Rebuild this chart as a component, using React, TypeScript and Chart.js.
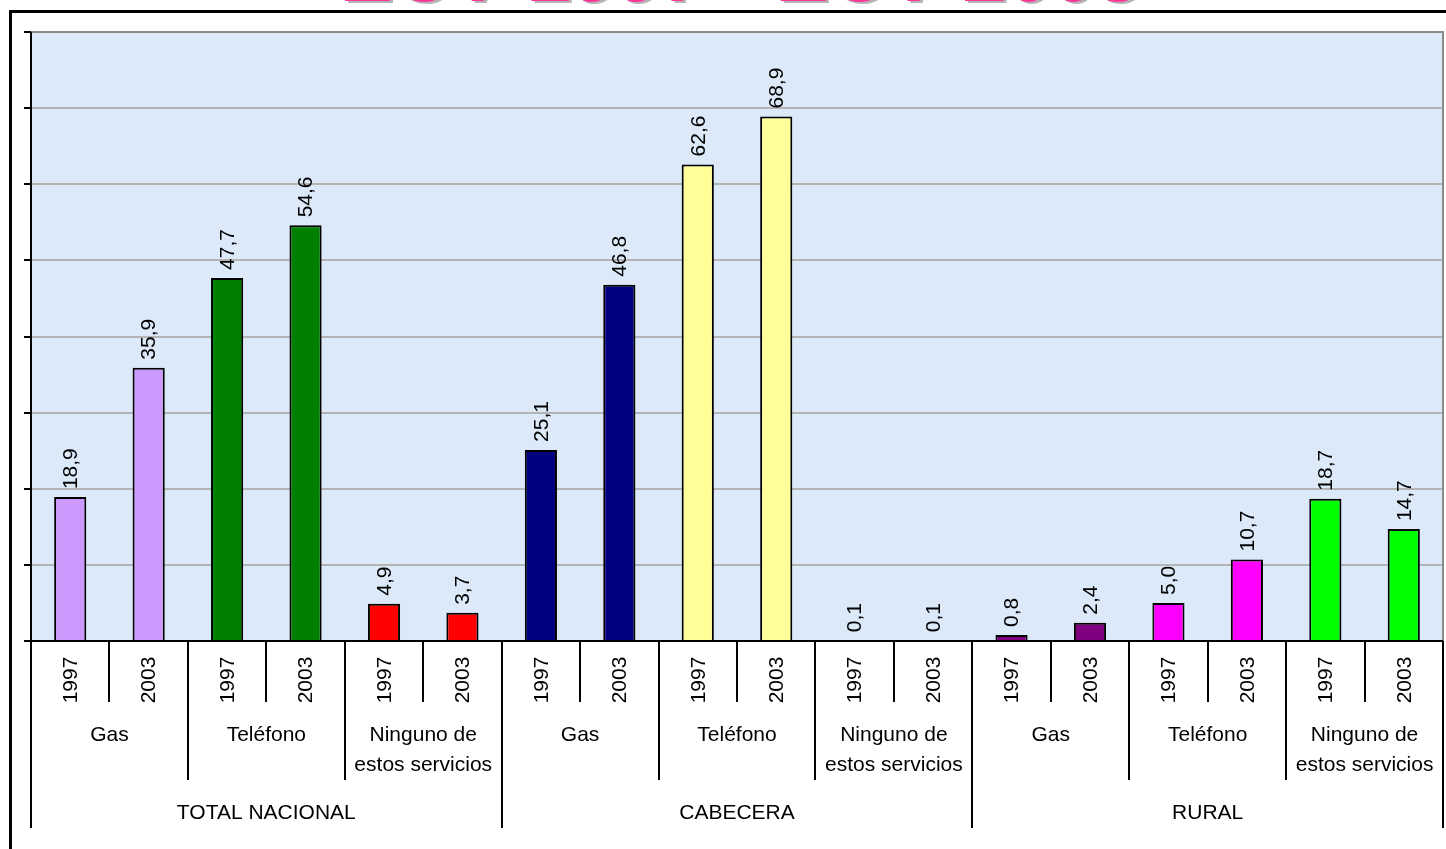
import React, { useEffect, useRef } from 'react';
import { Chart, registerables } from 'chart.js';

Chart.register(...registerables);

const titleText = 'ECV 1997 - ECV 2003';
const regions = ['TOTAL NACIONAL', 'CABECERA', 'RURAL'];
const services = [['Gas'], ['Teléfono'], ['Ninguno de', 'estos servicios']];
const years = ['1997', '2003'];
const values = [18.9, 35.9, 47.7, 54.6, 4.9, 3.7, 25.1, 46.8, 62.6, 68.9, 0.1, 0.1, 0.8, 2.4, 5.0, 10.7, 18.7, 14.7];
const barColors = [
  '#CC99FF', '#CC99FF', '#008000', '#008000', '#FF0000', '#FF0000',
  '#000080', '#000080', '#FFFF99', '#FFFF99', '#33CCCC', '#33CCCC',
  '#800080', '#800080', '#FF00FF', '#FF00FF', '#00FF00', '#00FF00',
];
const yMin = 0;
const yMax = 80;
const yStep = 10;

const FONT = '"Liberation Sans", Arial, sans-serif';

const categories: string[] = [];
regions.forEach((r) => services.forEach((s) => years.forEach((y) => categories.push(`${r} | ${s.join(' ')} | ${y}`))));

const fmt = (v: number) => v.toFixed(1).replace('.', ',');

const decorPlugin = {
  id: 'decor',
  beforeDraw(chart: any) {
    const { ctx, chartArea: a } = chart;
    ctx.save();
    ctx.fillStyle = '#DBE9F8';
    ctx.fillRect(a.left, a.top, a.right - a.left, a.bottom - a.top);
    ctx.restore();
  },
  afterDatasetsDraw(chart: any) {
    const { ctx } = chart;
    const meta = chart.getDatasetMeta(0);
    ctx.save();
    ctx.fillStyle = '#000';
    ctx.font = `21px ${FONT}`;
    ctx.textAlign = 'left';
    ctx.textBaseline = 'middle';
    meta.data.forEach((bar: any, i: number) => {
      ctx.save();
      ctx.translate(bar.x, bar.y - 8);
      ctx.rotate(-Math.PI / 2);
      ctx.fillText(fmt(values[i]), 0, 1);
      ctx.restore();
    });
    ctx.restore();
  },
  afterDraw(chart: any) {
    const { ctx, chartArea: a } = chart;
    const xs = chart.scales.x;
    const ys = chart.scales.y;
    ctx.save();
    // plot border (gray top/right)
    ctx.strokeStyle = '#8C8C8C';
    ctx.lineWidth = 2;
    ctx.beginPath();
    ctx.moveTo(a.left, a.top);
    ctx.lineTo(a.right, a.top);
    ctx.lineTo(a.right, a.bottom);
    ctx.stroke();
    // axes
    ctx.strokeStyle = '#000';
    ctx.lineWidth = 2;
    ctx.beginPath();
    ctx.moveTo(a.left, a.top);
    ctx.lineTo(a.left, a.bottom);
    ctx.lineTo(a.right, a.bottom);
    ctx.stroke();
    // y tick marks
    ctx.beginPath();
    for (let v = yMin; v <= yMax; v += yStep) {
      const y = Math.round(ys.getPixelForValue(v));
      ctx.moveTo(a.left - 7, y);
      ctx.lineTo(a.left, y);
    }
    ctx.stroke();

    // hierarchical category axis
    const n = categories.length;
    const half = (xs.getPixelForValue(1) - xs.getPixelForValue(0)) / 2;
    const bottom = a.bottom;
    ctx.beginPath();
    for (let k = 0; k <= n; k++) {
      const x = Math.round(k < n ? xs.getPixelForValue(k) - half : xs.getPixelForValue(n - 1) + half);
      let len = 61;
      if (k % 6 === 0) len = 187;
      else if (k % 2 === 0) len = 139;
      ctx.moveTo(x, bottom);
      ctx.lineTo(x, bottom + len);
    }
    ctx.stroke();

    ctx.fillStyle = '#000';
    ctx.font = `21px ${FONT}`;
    ctx.textBaseline = 'middle';
    // years
    ctx.textAlign = 'center';
    for (let i = 0; i < n; i++) {
      ctx.save();
      ctx.translate(xs.getPixelForValue(i) + 1, bottom + 39);
      ctx.rotate(-Math.PI / 2);
      ctx.fillText(years[i % 2], 0, 0);
      ctx.restore();
    }
    // services
    for (let g = 0; g < n / 2; g++) {
      const cx = (xs.getPixelForValue(g * 2) + xs.getPixelForValue(g * 2 + 1)) / 2;
      const lines = services[g % 3];
      lines.forEach((ln, j) => ctx.fillText(ln, cx, bottom + 94 + j * 30));
    }
    // regions
    regions.forEach((r, ri) => {
      const cx = (xs.getPixelForValue(ri * 6) + xs.getPixelForValue(ri * 6 + 5)) / 2;
      ctx.fillText(r, cx, bottom + 172);
    });

    // outer frame
    ctx.lineWidth = 3;
    ctx.beginPath();
    ctx.moveTo(10.5, chart.height + 5);
    ctx.lineTo(10.5, 11.5);
    ctx.lineTo(chart.width + 5, 11.5);
    ctx.stroke();

    // title (cut off at top)
    ctx.font = `bold 80px ${FONT}`;
    ctx.textAlign = 'center';
    ctx.textBaseline = 'alphabetic';
    ctx.fillStyle = 'rgba(120,120,120,0.55)';
    ctx.fillText(titleText, 743, 3);
    ctx.fillStyle = '#FF3399';
    ctx.fillText(titleText, 740, 1);
    ctx.restore();
  },
};

export default function App() {
  const ref = useRef<HTMLCanvasElement>(null);
  useEffect(() => {
    if (!ref.current) return;
    const chart = new Chart(ref.current, {
      type: 'bar',
      data: {
        labels: categories,
        datasets: [
          {
            data: values,
            backgroundColor: barColors,
            borderColor: '#000',
            borderWidth: 2,
            barPercentage: 0.41,
            categoryPercentage: 1,
          },
        ],
      },
      options: {
        responsive: false,
        animation: false,
        devicePixelRatio: 1,
        layout: { padding: { left: 31, top: 32, right: 3, bottom: 208 } },
        plugins: { legend: { display: false }, tooltip: { enabled: false }, title: { display: false } },
        scales: {
          x: {
            ticks: { display: false },
            grid: { display: false, drawTicks: false },
            border: { display: false },
          },
          y: {
            min: yMin,
            max: yMax,
            ticks: { display: false, stepSize: yStep },
            grid: { color: '#B4B4B4', lineWidth: 2, drawTicks: false },
            border: { display: false },
          },
        },
      },
      plugins: [decorPlugin],
    });
    return () => chart.destroy();
  }, []);
  return (
    <div style={{ position: 'fixed', left: 0, top: 0, width: 1446, height: 849, background: '#fff' }}>
      <canvas ref={ref} width={1446} height={849} />
    </div>
  );
}
